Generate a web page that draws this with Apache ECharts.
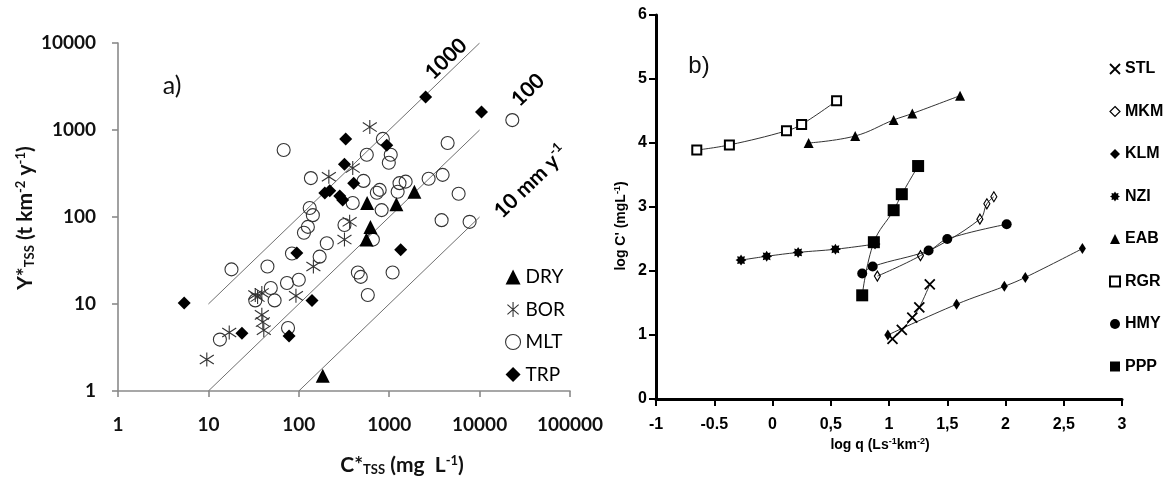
<!DOCTYPE html>
<html>
<head>
<meta charset="utf-8">
<script src="https://cdn.jsdelivr.net/npm/echarts@6/dist/echarts.min.js"></script>
<style>
  html, body { margin: 0; padding: 0; background: #ffffff; }
  #chart { width: 1164px; height: 480px; }
</style>
</head>
<body>
<div id="chart"></div>
<script>
// ---------- Panel a: Y*TSS (t km-2 y-1) against C*TSS (mg L-1), one list per climate group ----------
const dry = [[184, 1.5], [560, 55], [620, 77], [570, 145], [1200, 140], [1900, 195]];
const bor = [[9.6, 2.3], [17, 4.7], [33, 12.7], [35, 12], [39, 13.4], [39, 7.5], [40, 6.2], [41, 5.0],
             [93, 12.4], [145, 27], [215, 290], [395, 365], [610, 1080], [320, 55], [365, 88]];
const mlt = [[18, 25], [45, 27], [84, 38], [114, 66], [126, 77], [132, 127], [143, 105], [204, 50],
             [170, 35], [74, 17.4], [100, 19], [49, 15.3], [54, 11], [33, 11], [13.4, 3.9], [76, 5.3],
             [68, 590], [136, 280], [565, 520], [850, 790], [1040, 520], [990, 420], [520, 260],
             [395, 145], [730, 190], [785, 205], [825, 120], [1240, 195], [1300, 245], [1520, 255],
             [2730, 275], [3900, 305], [4430, 710], [5860, 185], [3800, 92], [7750, 88], [23000, 1300],
             [1090, 23], [450, 23], [485, 20.5], [580, 12.7], [660, 55], [320, 81]];
const trp = [[5.4, 10.3], [23.5, 4.6], [78, 4.3], [95, 38.5], [140, 11], [1340, 42], [2530, 2400],
             [10500, 1610], [330, 790], [940, 670], [320, 405], [405, 245], [194, 189], [220, 200],
             [284, 174], [306, 157]];

// Runoff isolines in mm per year (Y = C * runoff / 1000) and the C range each is drawn over
const runoffLevels = [1000, 100, 10];
const runoffSpans = [[10, 10000], [10, 10000], [100, 10000]];

// ---------- Panel b: log C' against log q, one list per station ----------
const stl = [[1.03, 0.94], [1.11, 1.08], [1.20, 1.27], [1.26, 1.43], [1.35, 1.79]];
const mkm = [[0.90, 1.92], [1.27, 2.24], [1.78, 2.81], [1.84, 3.05], [1.90, 3.16]];
const klm = [[0.99, 1.00], [1.58, 1.48], [1.99, 1.76], [2.17, 1.90], [2.66, 2.35]];
const nzi = [[-0.27, 2.17], [-0.05, 2.23], [0.22, 2.29], [0.54, 2.34], [0.88, 2.42]];
const eab = [[0.31, 4.00], [0.71, 4.11], [1.04, 4.36], [1.20, 4.46], [1.61, 4.74]];
const rgr = [[-0.65, 3.89], [-0.37, 3.97], [0.12, 4.19], [0.25, 4.29], [0.55, 4.66]];
const hmy = [[0.77, 1.96], [0.86, 2.07], [1.34, 2.32], [1.50, 2.50], [2.01, 2.73]];
const ppp = [[0.77, 1.62], [0.87, 2.45], [1.04, 2.95], [1.11, 3.20], [1.25, 3.64]];

const qTickLabels = ['-1', '-0.5', '0', '0,5', '1', '1,5', '2', '2,5', '3'];
const cTickLabels = ['0', '1', '2', '3', '4', '5', '6'];

// ---------- symbol shapes ----------
const ASTERISK = 'path://M10,0L10,20M2.5,3.5L17.5,16.5M2.5,16.5L17.5,3.5';
const CROSS = 'path://M0,0L20,20M0,20L20,0';
function burst(points, rOut, rIn) {
  let d = 'path://';
  for (let i = 0; i < points * 2; i++) {
    const a = i * Math.PI / points;
    const r = i % 2 ? rIn : rOut;
    d += (i ? 'L' : 'M') + (10 + r * Math.sin(a)).toFixed(2) + ',' + (10 - r * Math.cos(a)).toFixed(2);
  }
  return d + 'Z';
}
const STAR = burst(8, 10, 6.5);

const FA = 'Lato, "Open Sans", sans-serif';
const FB = '"Liberation Sans", Arial, sans-serif';

const chart = echarts.init(document.getElementById('chart'), null, { renderer: 'canvas' });

// panel a series
const open = (c, w) => ({ color: 'transparent', borderColor: c, borderWidth: w, opacity: 1 });
const solid = (c) => ({ color: c, opacity: 1 });
const aSeries = [];
runoffLevels.forEach((r, i) => {
  const span = runoffSpans[i];
  aSeries.push({
    type: 'line', name: 'runoff ' + r, xAxisIndex: 0, yAxisIndex: 0,
    data: span.map(c => [c, c * r / 1000]),
    showSymbol: false, silent: true,
    lineStyle: { color: '#6f6f6f', width: 1 }, z: 1
  });
});
aSeries.push(
  { type: 'scatter', name: 'MLT', xAxisIndex: 0, yAxisIndex: 0, data: mlt,
    symbol: 'circle', symbolSize: 13, itemStyle: open('#333', 1.1), z: 3 },
  { type: 'scatter', name: 'BOR', xAxisIndex: 0, yAxisIndex: 0, data: bor,
    symbol: ASTERISK, symbolSize: 14, itemStyle: open('#333', 1.1), z: 4 },
  { type: 'scatter', name: 'TRP', xAxisIndex: 0, yAxisIndex: 0, data: trp,
    symbol: 'diamond', symbolSize: 13, itemStyle: solid('#000'), z: 5 },
  { type: 'scatter', name: 'DRY', xAxisIndex: 0, yAxisIndex: 0, data: dry,
    symbol: 'triangle', symbolSize: 14, itemStyle: solid('#000'), z: 5 }
);

// panel b: each station gets a thin fitted curve through its points and its markers
const stations = [
  { name: 'STL', data: stl, symbol: CROSS, size: 10, style: open('#000', 1.8) },
  { name: 'MKM', data: mkm, symbol: 'diamond', size: [6, 10], style: open('#000', 1.2) },
  { name: 'KLM', data: klm, symbol: 'diamond', size: [7, 11], style: solid('#000') },
  { name: 'NZI', data: nzi, symbol: STAR, size: 11, style: solid('#000') },
  { name: 'EAB', data: eab, symbol: 'triangle', size: 10, style: solid('#000') },
  { name: 'RGR', data: rgr, symbol: 'rect', size: 9, style: { color: '#fff', borderColor: '#000', borderWidth: 2, opacity: 1 } },
  { name: 'HMY', data: hmy, symbol: 'circle', size: 10, style: solid('#000') },
  { name: 'PPP', data: ppp, symbol: 'rect', size: 12, style: solid('#000') }
];
const bSeries = [];
stations.forEach(s => {
  bSeries.push({
    type: 'line', name: s.name + ' curve', xAxisIndex: 1, yAxisIndex: 1, data: s.data,
    smooth: 0.4, showSymbol: false, silent: true,
    lineStyle: { color: '#333', width: 1 }, z: 1
  });
  bSeries.push({
    type: 'scatter', name: s.name, xAxisIndex: 1, yAxisIndex: 1, data: s.data,
    symbol: s.symbol, symbolSize: s.size, itemStyle: s.style, z: 3
  });
});

const aAxisLine = { lineStyle: { color: '#8a8a8a', width: 1.6 } };
const aTick = { show: true, length: 6, lineStyle: { color: '#8a8a8a', width: 1.6 } };
const aLabel = { color: '#111', fontFamily: FA, fontWeight: 'bold', fontSize: 19, formatter: v => String(v) };

const bAxisLine = { onZero: false, lineStyle: { color: '#000', width: 3 } };
const bTick = { show: true, length: 7, lineStyle: { color: '#000', width: 2 } };
const bLabel = { color: '#000', fontFamily: FB, fontWeight: 'bold', fontSize: 16 };

const sub = (size) => ({ fontSize: size, verticalAlign: 'bottom', lineHeight: size });
const sup = (size) => ({ fontSize: size, verticalAlign: 'top', lineHeight: size });

const option = {
  backgroundColor: '#ffffff',
  animation: false,
  grid: [
    { left: 118, top: 43, width: 452, height: 348 },
    { left: 656, top: 15, width: 466, height: 384 }
  ],
  xAxis: [
    { type: 'log', logBase: 10, min: 1, max: 100000, gridIndex: 0,
      axisLine: aAxisLine, axisTick: aTick, splitLine: { show: false },
      axisLabel: Object.assign({}, aLabel, { margin: 24 }) },
    { type: 'value', min: -1, max: 3, interval: 0.5, gridIndex: 1,
      axisLine: bAxisLine, axisTick: bTick, splitLine: { show: false },
      axisLabel: Object.assign({ margin: 18,
        formatter: v => qTickLabels[Math.round((v + 1) / 0.5)] }, bLabel) }
  ],
  yAxis: [
    { type: 'log', logBase: 10, min: 1, max: 10000, gridIndex: 0,
      axisLine: Object.assign({ show: true }, aAxisLine), axisTick: aTick, splitLine: { show: false },
      axisLabel: Object.assign({}, aLabel, { margin: 22 }) },
    { type: 'value', min: 0, max: 6, interval: 1, gridIndex: 1,
      axisLine: Object.assign({ show: true }, bAxisLine), axisTick: bTick, splitLine: { show: false },
      axisLabel: Object.assign({ margin: 9,
        formatter: v => cTickLabels[Math.round(v)] }, bLabel, { fontSize: 16 }) }
  ],
  legend: [
    { orient: 'vertical', left: 500, top: 262, itemWidth: 15, itemHeight: 15, itemGap: 12.5, itemTextGap: 8,
      textStyle: { fontFamily: FA, fontSize: 19, color: '#000', lineHeight: 20 },
      selectedMode: false,
      data: [
        { name: 'DRY', icon: 'triangle', itemStyle: { color: '#000', borderWidth: 0, opacity: 1 } },
        { name: 'BOR', icon: ASTERISK, itemStyle: { color: 'transparent', borderColor: '#333', borderWidth: 1.1, opacity: 1 } },
        { name: 'MLT', icon: 'circle', itemStyle: { color: 'transparent', borderColor: '#333', borderWidth: 1.1, opacity: 1 } },
        { name: 'TRP', icon: 'diamond', itemStyle: { color: '#000', borderWidth: 0, opacity: 1 } }
      ] },
    { orient: 'vertical', left: 1104, top: 55, itemWidth: 10, itemHeight: 10, itemGap: 24.5, itemTextGap: 3,
      textStyle: { fontFamily: FB, fontWeight: 'bold', fontSize: 16, color: '#000', lineHeight: 18 },
      selectedMode: false,
      data: stations.map(s => ({
        name: s.name,
        icon: s.symbol,
        itemStyle: Object.assign({ borderWidth: 0 }, s.style)
      })) }
  ],
  graphic: [
    { type: 'text', x: 172, y: 86, style: { text: 'a)', fontFamily: FA, fontSize: 25, fill: '#111', align: 'center', verticalAlign: 'middle' } },
    { type: 'text', x: 699, y: 66, style: { text: 'b)', fontFamily: FB, fontSize: 24, fill: '#111', align: 'center', verticalAlign: 'middle' } },
    // isoline labels
    { type: 'text', x: 446, y: 59, rotation: 44 * Math.PI / 180,
      style: { text: '1000', fontFamily: FA, fontWeight: 'bold', fontSize: 21, fill: '#000', align: 'center', verticalAlign: 'middle' } },
    { type: 'text', x: 528, y: 90, rotation: 44 * Math.PI / 180,
      style: { text: '100', fontFamily: FA, fontWeight: 'bold', fontSize: 21, fill: '#000', align: 'center', verticalAlign: 'middle' } },
    { type: 'text', x: 530, y: 181, rotation: 44 * Math.PI / 180,
      style: { text: '{m|10 mm y}{p|-1}', align: 'center', verticalAlign: 'middle',
        rich: { m: { fontFamily: FA, fontWeight: 'bold', fontSize: 21, fill: '#000', lineHeight: 24, verticalAlign: 'bottom' },
                p: { fontFamily: FA, fontWeight: 'bold', fontSize: 13, fill: '#000', lineHeight: 13, verticalAlign: 'top' } } } },
    // panel a axis titles
    { type: 'text', x: 402, y: 465,
      style: { text: '{m|C*}{s|TSS}{m| (mg  L}{p|-1}{m|)}', align: 'center', verticalAlign: 'middle',
        rich: { m: { fontFamily: FA, fontWeight: 'bold', fontSize: 21, fill: '#111', lineHeight: 22, verticalAlign: 'middle' },
                s: Object.assign({ fontFamily: FA, fontWeight: 'bold', fill: '#111' }, sub(13)),
                p: Object.assign({ fontFamily: FA, fontWeight: 'bold', fill: '#111' }, sup(13)) } } },
    { type: 'text', x: 25, y: 218, rotation: Math.PI / 2,
      style: { text: '{m|Y*}{s|TSS}{m| (t km}{p|-2}{m| y}{p|-1}{m|)}', align: 'center', verticalAlign: 'middle',
        rich: { m: { fontFamily: FA, fontWeight: 'bold', fontSize: 21, fill: '#111', lineHeight: 22, verticalAlign: 'middle' },
                s: Object.assign({ fontFamily: FA, fontWeight: 'bold', fill: '#111' }, sub(13)),
                p: Object.assign({ fontFamily: FA, fontWeight: 'bold', fill: '#111' }, sup(13)) } } },
    // panel b axis titles
    { type: 'text', x: 880, y: 445,
      style: { text: "{m|log q (Ls}{p|-1}{m|km}{p|-2}{m|)}", align: 'center', verticalAlign: 'middle',
        rich: { m: { fontFamily: FB, fontWeight: 'bold', fontSize: 14, fill: '#000', lineHeight: 16, verticalAlign: 'middle' },
                p: Object.assign({ fontFamily: FB, fontWeight: 'bold', fill: '#000' }, sup(9)) } } },
    { type: 'text', x: 621, y: 226, rotation: Math.PI / 2,
      style: { text: "{m|log C' (mgL}{p|-1}{m|)}", align: 'center', verticalAlign: 'middle',
        rich: { m: { fontFamily: FB, fontWeight: 'bold', fontSize: 14, fill: '#000', lineHeight: 16, verticalAlign: 'middle' },
                p: Object.assign({ fontFamily: FB, fontWeight: 'bold', fill: '#000' }, sup(9)) } } }
  ],
  series: aSeries.concat(bSeries)
};

chart.setOption(option);
</script>
</body>
</html>
